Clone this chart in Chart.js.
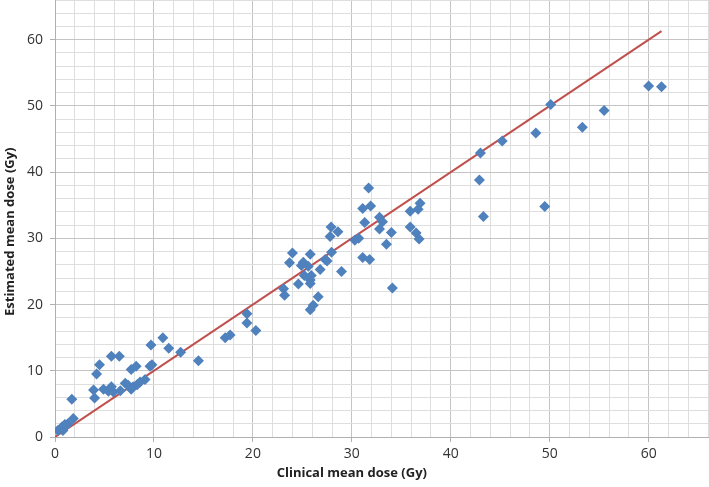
<!DOCTYPE html>
<html lang="en">
<head>
  <meta charset="UTF-8">
  <title>Estimated vs clinical mean dose</title>
  <style>
    html, body { margin: 0; padding: 0; background: #fff; }
    #wrap { width: 709px; height: 487px; }
  </style>
</head>
<body>
  <div id="wrap">
    <canvas id="myChart" width="709" height="487"></canvas>
  </div>

  <script src="https://cdn.jsdelivr.net/npm/chart.js"></script>

  <script>
    // clinical mean dose (Gy) for each patient
    const clinicalDose = [
      0.3, 0.7, 0.8, 1.0, 1.3, 1.1, 1.85, 1.7,
      3.9, 4.0, 4.2, 4.5, 4.9, 5.4, 5.7, 5.9, 5.7, 6.5, 6.6, 7.1, 7.4, 7.7, 7.9, 8.3, 8.6,
      7.7, 8.2, 9.1, 9.6, 9.7, 9.8, 10.9, 11.5, 12.7, 14.5,
      17.2, 17.7, 19.4, 19.4, 20.3,
      23.1, 23.2, 23.7, 24.0, 24.6, 24.9, 25.1, 25.2, 25.6, 25.8, 25.8, 25.8, 25.9,
      25.8, 26.1, 26.6, 26.8, 27.3, 27.5, 27.8, 27.9, 27.95, 28.6, 28.96,
      30.3, 30.7, 31.1, 31.3, 31.7, 31.9, 31.1, 31.8, 32.8, 33.1, 32.8, 33.5, 34.0, 34.1,
      35.9, 35.9, 36.5, 36.7, 36.8, 36.9,
      42.9, 43.0, 43.3, 45.2, 48.6, 49.5, 50.1, 53.3, 55.5, 60.0, 61.3
    ];
    // estimated mean dose (Gy), same order
    const estimatedDose = [
      1.0, 1.5, 1.0, 1.9, 2.0, 1.7, 2.8, 5.7,
      7.1, 5.9, 9.5, 10.9, 7.2, 6.9, 7.6, 6.8, 12.2, 12.2, 7.0, 8.1, 7.8, 7.2, 7.6, 7.9, 8.3,
      10.2, 10.7, 8.7, 10.7, 13.9, 10.9, 15.0, 13.4, 12.8, 11.5,
      15.0, 15.4, 18.6, 17.2, 16.1,
      22.4, 21.4, 26.3, 27.8, 23.1, 25.9, 26.4, 24.4, 25.8, 27.6, 23.7, 23.2, 24.4,
      19.2, 19.9, 21.2, 25.3, 26.8, 26.6, 30.3, 31.7, 27.9, 31.0, 25.0,
      29.7, 30.0, 34.5, 32.4, 37.6, 34.9, 27.1, 26.8, 33.2, 32.5, 31.4, 29.1, 30.9, 22.5,
      34.1, 31.7, 30.8, 34.4, 29.9, 35.3,
      38.8, 42.9, 33.3, 44.7, 45.9, 34.8, 50.2, 46.8, 49.3, 53.0, 52.9
    ];
    // identity line end points
    const lineX = [0, 61.3];
    const lineY = [0, 61.3];

    const axisMax = 66;
    const xTitle = 'Clinical mean dose (Gy)';
    const yTitle = 'Estimated mean dose (Gy)';
    const fontFamily = "'Open Sans', 'Noto Sans', sans-serif";

    const points = clinicalDose.map((x, i) => ({ x: x, y: estimatedDose[i] }));
    const linePoints = lineX.map((x, i) => ({ x: x, y: lineY[i] }));

    const gridColor = (ctx) => (ctx.tick && ctx.tick.value % 10 === 0) ? '#c4c4c4' : '#dedede';
    const tickMarkColor = (ctx) => (ctx.tick && ctx.tick.value % 10 === 0) ? '#b0b0b0' : 'rgba(0,0,0,0)';
    const tickLabel = (value) => (value % 10 === 0 ? String(value) : '');

    // axis titles sit a bit off-centre in the original, so draw them by hand
    const axisTitles = {
      id: 'axisTitles',
      afterDraw(chart) {
        const c = chart.ctx;
        const xs = chart.scales.x, ys = chart.scales.y;
        c.save();
        c.fillStyle = '#222';
        c.font = 'bold 13px ' + fontFamily;
        c.textAlign = 'center';
        c.textBaseline = 'middle';
        c.fillText(xTitle, xs.getPixelForValue(30), 473);
        c.translate(10, ys.getPixelForValue(31));
        c.rotate(-Math.PI / 2);
        c.fillText(yTitle, 0, 0);
        c.restore();
      }
    };

    const ctx = document.getElementById('myChart').getContext('2d');
    new Chart(ctx, {
      type: 'scatter',
      data: {
        datasets: [
          {
            label: 'Patients',
            data: points,
            pointStyle: 'rectRot',
            pointRadius: 5.5,
            pointHoverRadius: 5.5,
            backgroundColor: '#4f81bd',
            borderColor: '#4f81bd',
            borderWidth: 0,
            order: 1
          },
          {
            label: 'Identity',
            type: 'line',
            data: linePoints,
            borderColor: '#c0504d',
            borderWidth: 2,
            pointRadius: 0,
            fill: false,
            order: 2
          }
        ]
      },
      plugins: [axisTitles],
      options: {
        responsive: false,
        animation: false,
        layout: { autoPadding: false, padding: { top: 0, right: 1, bottom: 0, left: 0 } },
        plugins: {
          legend: { display: false },
          tooltip: { enabled: false }
        },
        scales: {
          x: {
            type: 'linear',
            min: 0,
            max: axisMax,
            afterFit: (scale) => {
              scale.height = 50;
              scale.paddingLeft = 0;
              scale.paddingRight = 0;
            },
            border: { color: '#b0b0b0', width: 1 },
            grid: { color: gridColor, tickColor: tickMarkColor, tickLength: 5 },
            ticks: {
              stepSize: 2,
              autoSkip: false,
              maxRotation: 0,
              padding: 4,
              color: '#333',
              font: { family: fontFamily, size: 14 },
              callback: tickLabel
            }
          },
          y: {
            type: 'linear',
            min: 0,
            max: axisMax,
            afterFit: (scale) => {
              scale.width = 55;
              scale.paddingTop = 0;
              scale.paddingBottom = 0;
            },
            border: { color: '#b0b0b0', width: 1 },
            grid: { color: gridColor, tickColor: tickMarkColor, tickLength: 5 },
            ticks: {
              stepSize: 2,
              autoSkip: false,
              padding: 7,
              color: '#333',
              font: { family: fontFamily, size: 14 },
              callback: tickLabel
            }
          }
        }
      }
    });
  </script>
</body>
</html>
